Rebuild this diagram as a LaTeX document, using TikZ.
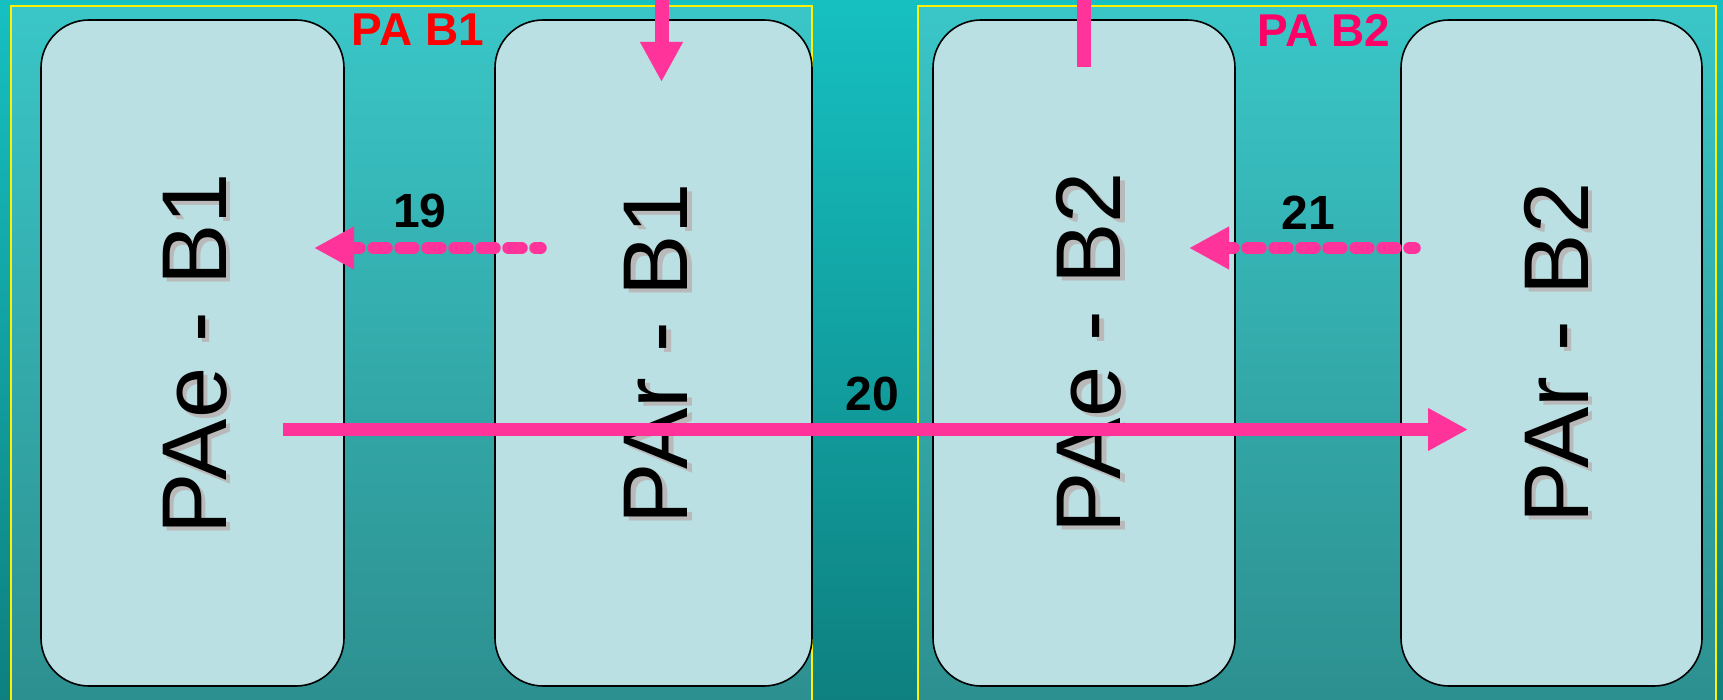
\documentclass[tikz,border=0pt]{standalone}
\usepackage{fontspec}
\setmainfont{Liberation Sans}
\usetikzlibrary{arrows.meta}
\definecolor{bgtop}{RGB}{22,192,193}
\definecolor{bgbot}{RGB}{14,128,128}
\definecolor{frtop}{RGB}{58,198,199}
\definecolor{frbot}{RGB}{45,143,143}
\definecolor{boxfill}{RGB}{186,224,227}
\definecolor{arrowpink}{RGB}{255,51,153}
\definecolor{shadowgray}{RGB}{185,185,185}
\definecolor{labred}{RGB}{255,0,0}
\definecolor{labmag}{RGB}{255,0,102}
\begin{document}
\begin{tikzpicture}[x=1pt,y=-1pt,
  pabox/.style={draw=black, line width=1.6pt, fill=boxfill, rounded corners=48pt,
    inner sep=0pt, minimum height=666pt},
  boxtext/.style={rotate=90, inner sep=0pt, font=\fontsize{92}{92}\selectfont},
  shadowtext/.style={boxtext, text=shadowgray},
  grouplabel/.style={inner sep=0pt, font=\bfseries\fontsize{46}{46}\selectfont},
  numlabel/.style={inner sep=0pt, font=\bfseries\fontsize{48}{48}\selectfont},
  solidarrow/.style={draw=arrowpink, line width=14pt, -{Triangle[length=40pt,width=40pt]}},
  dotarrow/.style={draw=arrowpink, line width=12.5pt, line cap=round,
    dash pattern=on 13pt off 14pt, dash phase=8pt, -{Triangle[length=40pt,width=40pt]}},
  frameedge/.style={draw=yellow, line width=1.5pt}
]
\useasboundingbox (0,0) rectangle (1723,700);
\clip (0,0) rectangle (1723,700);
\shade[top color=bgtop, bottom color=bgbot] (0,0) rectangle (1723,700);

% group frames
\shade[top color=frtop, bottom color=frbot] (11,6) rectangle (812,706);
\shade[top color=frtop, bottom color=frbot] (918,6) rectangle (1716,706);
\path[frameedge] (11,712) -- (11,6) -- (812,6) -- (812,712);
\path[frameedge] (918,712) -- (918,6) -- (1716,6) -- (1716,712);

% boxes
\node[pabox, minimum width=303pt] (e1) at (192.5,353) {};
\node[pabox, minimum width=317pt] (r1) at (653.5,353) {};
\node[pabox, minimum width=302pt] (e2) at (1084,353) {};
\node[pabox, minimum width=301pt] (r2) at (1551.5,353) {};

% box texts with shadow
\node[shadowtext] (e1s) at (199.5,358) {PAe - B1};
\node[boxtext] (e1t) at (195,354) {PAe - B1};
\node[shadowtext] (r1s) at (660.5,358) {PAr - B1};
\node[boxtext] (r1t) at (656,354) {PAr - B1};
\node[shadowtext] (e2s) at (1093.5,357) {PAe - B2};
\node[boxtext] (e2t) at (1089,353) {PAe - B2};
\node[shadowtext] (r2s) at (1560.5,357) {PAr - B2};
\node[boxtext] (r2t) at (1556,353) {PAr - B2};

% group labels
\node[grouplabel, text=labred] (g1) at (418,30) {PA B1};
\node[grouplabel, text=labmag] (g2) at (1324,30.5) {PA B2};

% number labels
\node[numlabel] (n19) at (420,211) {19};
\node[numlabel] (n21) at (1308,213) {21};
\node[numlabel] (n20) at (872,394) {20};

% connector end points
\coordinate (topin1) at (661.5,-10);
\coordinate (topend1) at (661.5,82);
\coordinate (topin2) at (1083.5,-10);
\coordinate (topend2) at (1083.5,67);
\coordinate (s19) at (540.5,248);
\coordinate (t19) at (314,248);
\coordinate (s21) at (1414.5,248);
\coordinate (t21) at (1189,248);
\coordinate (s20) at (282.5,429.5);
\coordinate (t20) at (1468,429.5);

% connectors
\draw[solidarrow] (topin1) -- (topend1);
\draw[draw=arrowpink, line width=14pt] (topin2) -- (topend2);
\draw[dotarrow] (s19) -- (t19);
\draw[dotarrow] (s21) -- (t21);
\draw[solidarrow, line width=13pt] (s20) -- (t20);
\end{tikzpicture}
\end{document}
